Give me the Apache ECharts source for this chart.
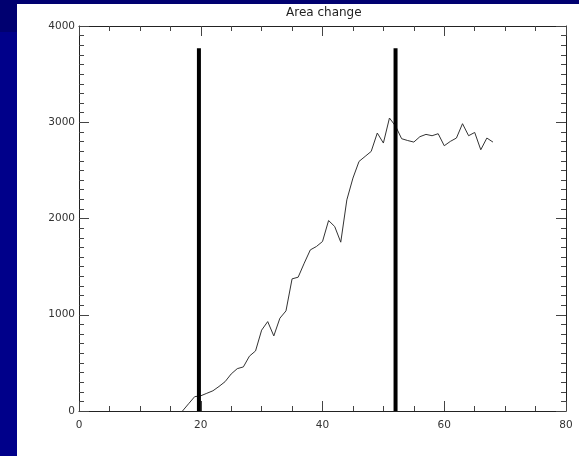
<!DOCTYPE html>
<html>
<head>
<meta charset="utf-8">
<script src="https://cdn.jsdelivr.net/npm/echarts@6/dist/echarts.min.js"></script>
<style>
  html, body { margin: 0; padding: 0; background: #00008a; }
  #topband { position: absolute; left: 0; top: 0; width: 579px; height: 4px; background: #000070; }
  #corner { position: absolute; left: 0; top: 0; width: 17px; height: 32px; background: #000070; }
  #paper { position: absolute; left: 17px; top: 4px; width: 562px; height: 452px; background: #fff; }
  #chart { position: absolute; left: 0; top: 0; width: 579px; height: 456px; }
</style>
</head>
<body>
<div id="topband"></div>
<div id="corner"></div>
<div id="paper"></div>
<div id="chart"></div>
<script>
// frame numbers and measured area
var frames = [17, 18, 19, 20, 21, 22, 23, 24, 25, 26, 27, 28, 29, 30, 31, 32, 33, 34,
  35, 36, 37, 38, 39, 40, 41, 42, 43, 44, 45, 46, 47, 48, 49, 50, 51, 52,
  53, 54, 55, 56, 57, 58, 59, 60, 61, 62, 63, 64, 65, 66, 67, 68];
var area = [0, 75, 149, 158, 184, 210, 255, 305, 385, 440, 458, 570, 624, 840, 929, 780, 964, 1040,
  1373, 1390, 1536, 1674, 1709, 1761, 1979, 1917, 1754, 2194, 2420, 2593, 2645, 2697, 2888, 2784, 3044, 2960,
  2829, 2810, 2794, 2850, 2874, 2860, 2881, 2756, 2801, 2836, 2985, 2860, 2894, 2714, 2836, 2794];
// the two black marker bars
var markerX = [19.7, 52.0];
var markerTop = 3770;

var xTicks = [0, 20, 40, 60, 80];
var yTicks = [0, 1000, 2000, 3000, 4000];

var lineData = [];
for (var i = 0; i < frames.length; i++) {
  lineData.push([frames[i], area[i]]);
}

function axisCfg(pos, ticks, minorSplit, primary) {
  var a = {
    type: 'value', position: pos,
    min: ticks[0], max: ticks[ticks.length - 1], interval: ticks[1] - ticks[0],
    axisLine: { show: true, onZero: false, lineStyle: { color: '#222' } },
    axisTick: { show: true, inside: true, length: 10, lineStyle: { color: '#444' } },
    minorTick: { show: true, splitNumber: minorSplit, length: 5, lineStyle: { color: '#444' } },
    splitLine: { show: false },
    axisLabel: { show: false }
  };
  if (primary) {
    a.axisLabel = {
      show: true, color: '#333', fontSize: 10.5, fontFamily: 'DejaVu Sans',
      margin: (pos === 'bottom') ? 9 : 4,
      formatter: function (v) { return String(v); }
    };
  }
  return a;
}

var series = [{
  type: 'line',
  data: lineData,
  showSymbol: false,
  lineStyle: { color: '#333', width: 1 },
  z: 3
}];
markerX.forEach(function (mx) {
  series.push({
    type: 'line',
    data: [[mx, 0], [mx, markerTop]],
    showSymbol: false,
    lineStyle: { color: '#000', width: 4 },
    z: 4
  });
});

var chart = echarts.init(document.getElementById('chart'));
chart.setOption({
  animation: false,
  grid: { left: 79, right: 13, top: 26, bottom: 45 },
  xAxis: [axisCfg('bottom', xTicks, 4, true), axisCfg('top', xTicks, 4, false)],
  yAxis: [axisCfg('left', yTicks, 10, true), axisCfg('right', yTicks, 10, false)],
  series: series
});
// title as a separate text element so it cannot interfere with the axes
chart.setOption({
  graphic: [{
    type: 'text', left: 322 - 36, top: 7,
    style: { text: 'Area change', fill: '#222', font: '12px "DejaVu Sans"' }
  }]
});
</script>
</body>
</html>
